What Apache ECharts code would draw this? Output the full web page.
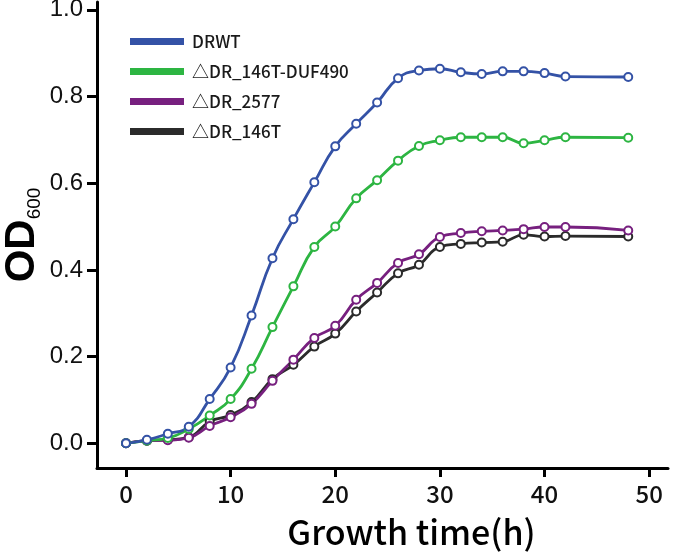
<!DOCTYPE html>
<html>
<head>
<meta charset="utf-8">
<script src="https://cdn.jsdelivr.net/npm/echarts@6/dist/echarts.min.js"></script>
<style>
  html, body { margin: 0; padding: 0; background: #fff; }
  #growthChart { width: 675px; height: 554px; }
</style>
</head>
<body>
<div id="growthChart"></div>
<script>
// sampling times (h)
var timePoints = [0, 2, 4, 6, 8, 10, 12, 14, 16, 18, 20, 22, 24, 26, 28, 30, 32, 34, 36, 38, 40, 42, 48];
// OD600 readings
var drwt = [0, 0.008, 0.022, 0.038, 0.102, 0.175, 0.295, 0.427, 0.517, 0.602, 0.685, 0.737, 0.786, 0.842, 0.86, 0.864, 0.856, 0.852, 0.858, 0.858, 0.854, 0.846, 0.845];
var dr146tDuf = [0, 0.006, 0.012, 0.033, 0.064, 0.102, 0.172, 0.268, 0.362, 0.453, 0.5, 0.565, 0.607, 0.652, 0.686, 0.699, 0.706, 0.706, 0.706, 0.692, 0.699, 0.706, 0.705];
var dr2577 = [0, 0.006, 0.007, 0.013, 0.04, 0.06, 0.091, 0.144, 0.193, 0.243, 0.271, 0.331, 0.37, 0.416, 0.436, 0.476, 0.485, 0.489, 0.491, 0.494, 0.499, 0.499, 0.491];
var dr146t = [0, 0.006, 0.008, 0.014, 0.05, 0.065, 0.095, 0.148, 0.181, 0.223, 0.253, 0.304, 0.348, 0.392, 0.412, 0.453, 0.46, 0.463, 0.465, 0.481, 0.477, 0.478, 0.477];
var seriesNames = ["DRWT", "△DR_146T-DUF490", "△DR_2577", "△DR_146T"];
var xTicks = [0, 10, 20, 30, 40, 50];
var yTicks = [0, 0.2, 0.4, 0.6, 0.8, 1.0];

function pairUp(ys) {
  return timePoints.map(function (t, i) { return [t, ys[i]]; });
}

function makeLine(name, ys, color) {
  return {
    name: name,
    type: "line",
    data: pairUp(ys),
    smooth: 0.5,
    symbol: "emptyCircle",
    symbolSize: 8,
    lineStyle: { color: color, width: 2.8 },
    itemStyle: { color: color, borderColor: color, borderWidth: 2.5 },
    emphasis: { disabled: true }
  };
}

var chart = echarts.init(document.getElementById("growthChart"));

var option = {
  animation: false,
  backgroundColor: "#fff",
  color: ["#3452A6", "#2DB542", "#77207F", "#2B2B2B"],
  grid: { left: 97, right: 7, top: 2, bottom: 86, containLabel: false, outerBoundsMode: "none" },
  legend: {
    data: seriesNames,
    orient: "vertical",
    left: 130,
    top: 31,
    padding: 0,
    icon: "rect",
    itemWidth: 52,
    itemHeight: 5,
    itemGap: 9,
    textStyle: {
      fontFamily: "Noto Sans CJK SC",
      fontSize: 17,
      fontWeight: 500,
      color: "#1a1a1a",
      lineHeight: 21,
      padding: [0, 0, 0, 4]
    }
  },
  xAxis: {
    type: "value",
    min: -2.77,
    max: 51.8,
    splitLine: { show: false },
    axisLine: { onZero: false, lineStyle: { color: "#000", width: 3 } },
    axisTick: { customValues: xTicks, length: 9, lineStyle: { color: "#000", width: 3 } },
    axisLabel: {
      customValues: xTicks,
      margin: 14,
      fontFamily: "Noto Sans CJK SC",
      fontSize: 24,
      fontWeight: 500,
      color: "#111"
    },
    name: "Growth time(h)",
    nameLocation: "middle",
    nameGap: 47,
    nameMoveOverlap: false,
    nameTextStyle: {
      fontFamily: "Noto Sans CJK SC",
      fontSize: 34,
      fontWeight: 500,
      color: "#000",
      padding: [0, 0, 0, 58]
    }
  },
  yAxis: {
    type: "value",
    min: -0.057,
    max: 1.018,
    splitLine: { show: false },
    axisLine: { onZero: false, lineStyle: { color: "#000", width: 3 } },
    axisTick: { customValues: yTicks, length: 10, lineStyle: { color: "#000", width: 3 } },
    axisLabel: {
      customValues: yTicks,
      margin: 14,
      fontFamily: "Liberation Sans",
      fontSize: 24,
      color: "#111",
      formatter: function (v) { return v.toFixed(1); }
    },
    name: "{a|OD}{b|600}",
    nameLocation: "middle",
    nameRotate: 90,
    nameGap: 53,
    nameMoveOverlap: false,
    nameTextStyle: {
      rich: {
        a: { fontFamily: "Liberation Sans", fontSize: 42, fontWeight: "bold", color: "#000", lineHeight: 44 },
        b: { fontFamily: "Liberation Sans", fontSize: 19, color: "#000", verticalAlign: "bottom", lineHeight: 20, padding: [12, 0, 0, 0] }
      }
    }
  },
  series: [
    makeLine(seriesNames[3], dr146t, "#2B2B2B"),
    makeLine(seriesNames[2], dr2577, "#77207F"),
    makeLine(seriesNames[1], dr146tDuf, "#2DB542"),
    makeLine(seriesNames[0], drwt, "#3452A6")
  ]
};

chart.setOption(option);
</script>
</body>
</html>
